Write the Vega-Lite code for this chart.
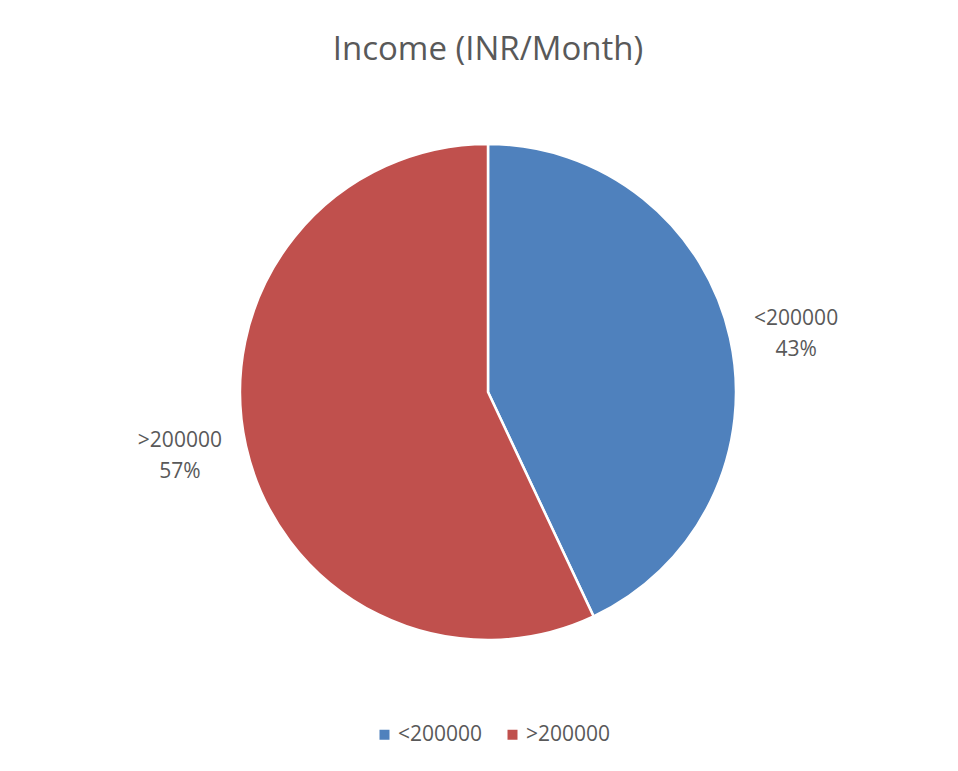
{
  "$schema": "https://vega.github.io/schema/vega-lite/v6.json",
  "width": 940,
  "height": 560,
  "padding": {"top": 34, "left": 18, "right": 0, "bottom": 10},
  "background": "white",
  "title": {
    "text": "Income (INR/Month)",
    "fontSize": 33,
    "font": "Open Sans",
    "fontWeight": "normal",
    "color": "#595959",
    "anchor": "middle",
    "offset": 45
  },
  "data": {
    "values": [
      {"category": "<200000", "value": 43},
      {"category": ">200000", "value": 57}
    ]
  },
  "encoding": {
    "theta": {"field": "value", "type": "quantitative", "stack": true},
    "color": {
      "field": "category",
      "type": "nominal",
      "scale": {"domain": ["<200000", ">200000"], "range": ["#4F81BD", "#C0504D"]},
      "legend": {
        "orient": "none",
        "legendX": 356,
        "legendY": 612,
        "direction": "horizontal",
        "title": null,
        "symbolType": "square",
        "symbolSize": 100,
        "symbolStrokeWidth": 0,
        "labelFont": "Open Sans",
        "labelFontSize": 21,
        "labelColor": "#595959",
        "columnPadding": 19,
        "labelOffset": 3
      }
    }
  },
  "layer": [
    {
      "mark": {"type": "arc", "outerRadius": 248, "stroke": "white", "strokeWidth": 2.5}
    },
    {
      "transform": [
        {"calculate": "datum.category + '\\n' + datum.value + '%'", "as": "label"}
      ],
      "mark": {
        "type": "text",
        "radius": 314,
        "thetaOffset": 0.026,
        "dy": -12,
        "font": "Open Sans",
        "fontSize": 21,
        "lineBreak": "\n",
        "lineHeight": 31,
        "align": "center",
        "baseline": "middle"
      },
      "encoding": {
        "text": {"field": "label"},
        "color": {"value": "#595959"}
      }
    }
  ],
  "config": {"view": {"stroke": null}}
}
